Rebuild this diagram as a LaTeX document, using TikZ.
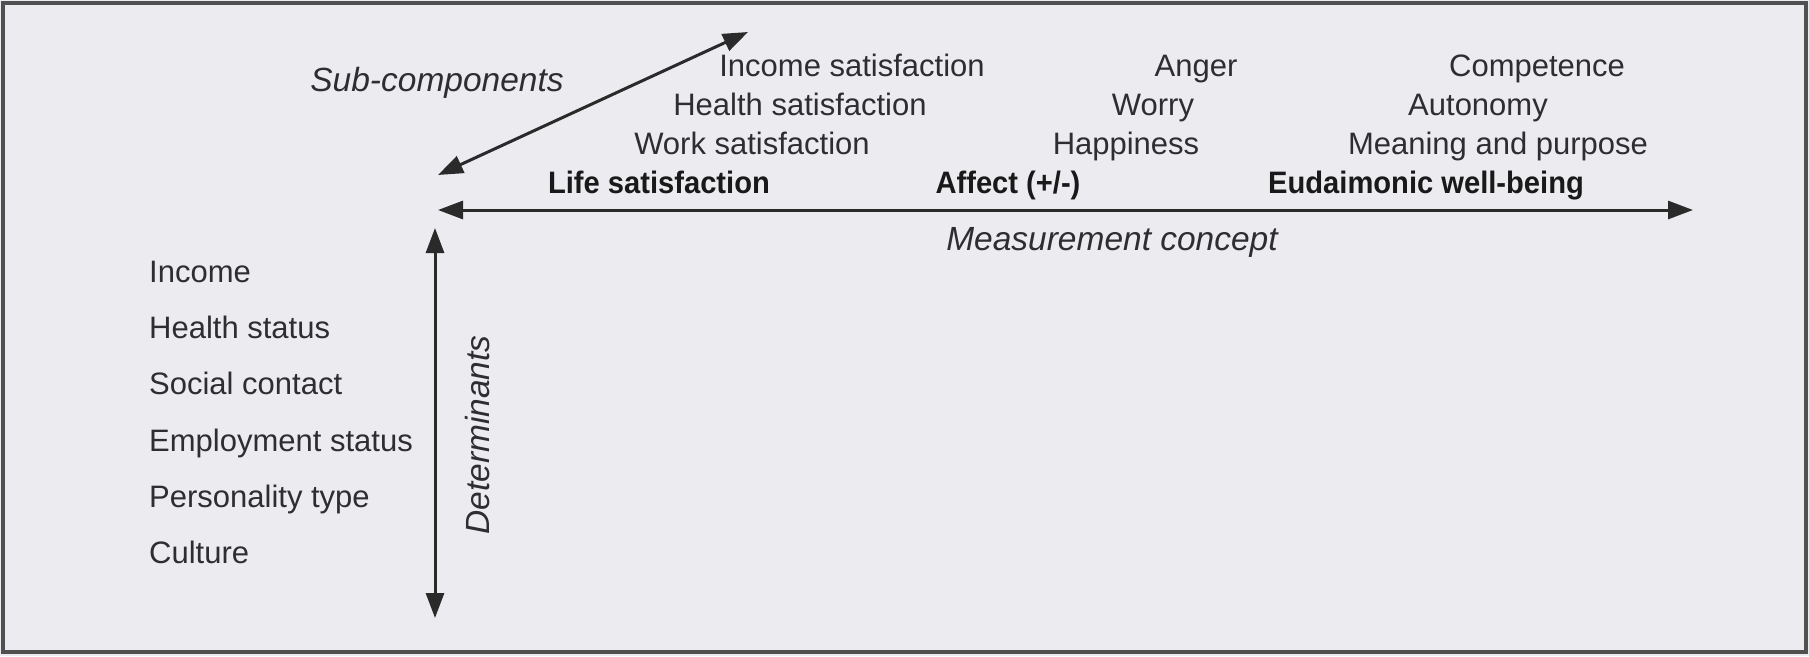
\documentclass[tikz,border=0pt]{standalone}
\usepackage{fontspec}
\setmainfont{Liberation Sans}[BoldFeatures={FakeStretch=0.94}]
\usetikzlibrary{arrows.meta}
\definecolor{bgc}{HTML}{ECECF0}
\definecolor{framec}{HTML}{505050}
\definecolor{txt}{HTML}{2E2E30}
\definecolor{arr}{HTML}{2A2A2A}
\tikzset{
  lbl/.style={anchor=base, inner sep=0pt, text=txt, font=\fontsize{31}{36}\selectfont},
  lblL/.style={anchor=base west, inner sep=0pt, text=txt, font=\fontsize{31}{36}\selectfont},
  head/.style={anchor=base, inner sep=0pt, text=black!90, font=\fontsize{31}{36}\selectfont\bfseries},
  axis/.style={anchor=base, inner sep=0pt, text=txt, font=\fontsize{33.5}{38}\selectfont\itshape},
  dbl/.style={{Triangle[length=25pt,width=18pt]}-{Triangle[length=25pt,width=18pt]}, line width=3pt, draw=arr},
}
\begin{document}
\begin{tikzpicture}[x=1pt,y=-1pt]
\useasboundingbox (0,0) rectangle (1809,656);
\fill[bgc] (0,0) rectangle (1809,656);
\draw[framec, line width=4.5pt] (3,3) rectangle (1806,652);
% arrow ends
\coordinate (dL) at (438,175);
\coordinate (dR) at (748,32);
\coordinate (hL) at (438,210);
\coordinate (hR) at (1693,210);
\coordinate (vT) at (435,228);
\coordinate (vB) at (435,618);
\draw[dbl] (dL) -- (dR);
\draw[dbl] (hL) -- (hR);
\draw[dbl] (vT) -- (vB);
% axis labels
\node[axis] (sub) at (437,91) {Sub-components};
\node[axis] (meas) at (1112,250) {Measurement concept};
\node[axis, rotate=90, anchor=center] (det) at (478,435) {Determinants};
% life satisfaction column
\node[lbl] (inc) at (852,76) {Income satisfaction};
\node[lbl] (hea) at (800,115) {Health satisfaction};
\node[lbl] (wor) at (752,154) {Work satisfaction};
\node[head] (life) at (659,193) {Life satisfaction};
% affect column
\node[lbl] (ang) at (1196,76) {Anger};
\node[lbl] (worry) at (1153,115) {Worry};
\node[lbl] (hap) at (1126,154) {Happiness};
\node[head] (aff) at (1008,193) {Affect (+/-)};
% eudaimonic column
\node[lbl] (comp) at (1537,76) {Competence};
\node[lbl] (aut) at (1478,115) {Autonomy};
\node[lbl] (mean) at (1498,154) {Meaning and purpose};
\node[head] (eud) at (1426,193) {Eudaimonic well-being};
% determinants
\node[lblL] (d1) at (149,282) {Income};
\node[lblL] (d2) at (149,338) {Health status};
\node[lblL] (d3) at (149,394) {Social contact};
\node[lblL] (d4) at (149,451) {Employment status};
\node[lblL] (d5) at (149,507) {Personality type};
\node[lblL] (d6) at (149,563) {Culture};
\end{tikzpicture}
\end{document}
